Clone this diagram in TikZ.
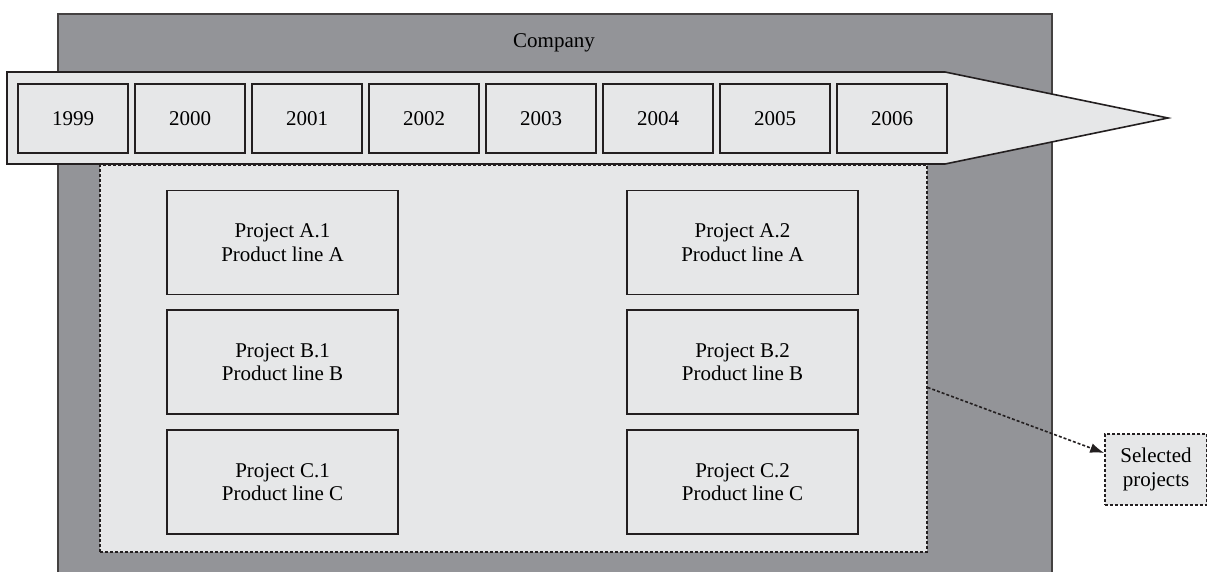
\documentclass[tikz,border=0pt]{standalone}
\usepackage{fontspec}
\setmainfont{Liberation Serif}
\usetikzlibrary{arrows.meta,calc}
\definecolor{compgray}{HTML}{939498}
\definecolor{lightfill}{HTML}{E6E7E8}
\definecolor{edgecol}{HTML}{231F20}
\tikzset{
  companybox/.style={draw=edgecol!85, line width=1.6pt, fill=compgray, rectangle, inner sep=0pt},
  yearbox/.style={draw=edgecol, line width=1.6pt, fill=lightfill, rectangle, inner sep=0pt,
     minimum width=110pt, minimum height=69pt, font=\fontsize{21}{23.5}\selectfont},
  projbox/.style={draw=edgecol, line width=1.5pt, fill=lightfill, rectangle, inner sep=0pt,
     minimum width=231pt, minimum height=104pt, align=center, font=\fontsize{21}{23.5}\selectfont},
  dotbox/.style={draw=edgecol, line width=1.6pt, dash pattern=on 3pt off 2pt, fill=lightfill, rectangle, inner sep=0pt},
  timearrow/.style={draw=edgecol, line width=1.6pt, fill=lightfill, line join=miter},
  txt/.style={font=\fontsize{21}{23.5}\selectfont, inner sep=0pt},
  connector/.style={draw=edgecol, line width=1.6pt, dash pattern=on 3pt off 2pt, -{Latex[length=14pt,width=10pt]}},
}
\begin{document}
\begin{tikzpicture}[x=1pt,y=-1pt]
\useasboundingbox (0,0) rectangle (1207,571);
\begin{scope}
\clip (0,0) rectangle (1207,571);
% company
\node[companybox, minimum width=994pt, minimum height=560pt, anchor=north west] (company) at (57,13) {};
\node[txt] (companylabel) at (554,43) {Company};
% selected projects area
\node[dotbox, minimum width=827pt, minimum height=387pt, anchor=north west] (sel) at (99,164) {};
% time arrow
\path[timearrow] (7,72) coordinate (a1) -- (945,72) coordinate (a2) -- (1168,118) coordinate (tip) -- (945,164) coordinate (a3) -- (7,164) coordinate (a4) -- cycle;
% years
\foreach \yr [count=\i from 0] in {1999,2000,2001,2002,2003,2004,2005,2006}{
  \node[yearbox] (y\yr) at ({73+117*\i},118.5) {\yr};
}
% projects
\node[projbox] (pA1) at (282.5,242.5) {Project A.1\\Product line A};
\node[projbox] (pB1) at (282.5,362) {Project B.1\\Product line B};
\node[projbox] (pC1) at (282.5,482) {Project C.1\\Product line C};
\node[projbox] (pA2) at (742.5,242.5) {Project A.2\\Product line A};
\node[projbox] (pB2) at (742.5,362) {Project B.2\\Product line B};
\node[projbox] (pC2) at (742.5,482) {Project C.2\\Product line C};
% selected projects label
\node[dotbox, minimum width=102pt, minimum height=71pt, align=center, font=\fontsize{21}{23.5}\selectfont] (selbox) at (1156,469.5) {Selected\\projects};
% connector
\coordinate (selstart) at ($(sel.south east)!0.425!(sel.north east)$);
\draw[connector] (selstart) -- ([yshift=16.5pt]selbox.west);
\end{scope}
\end{tikzpicture}
\end{document}
